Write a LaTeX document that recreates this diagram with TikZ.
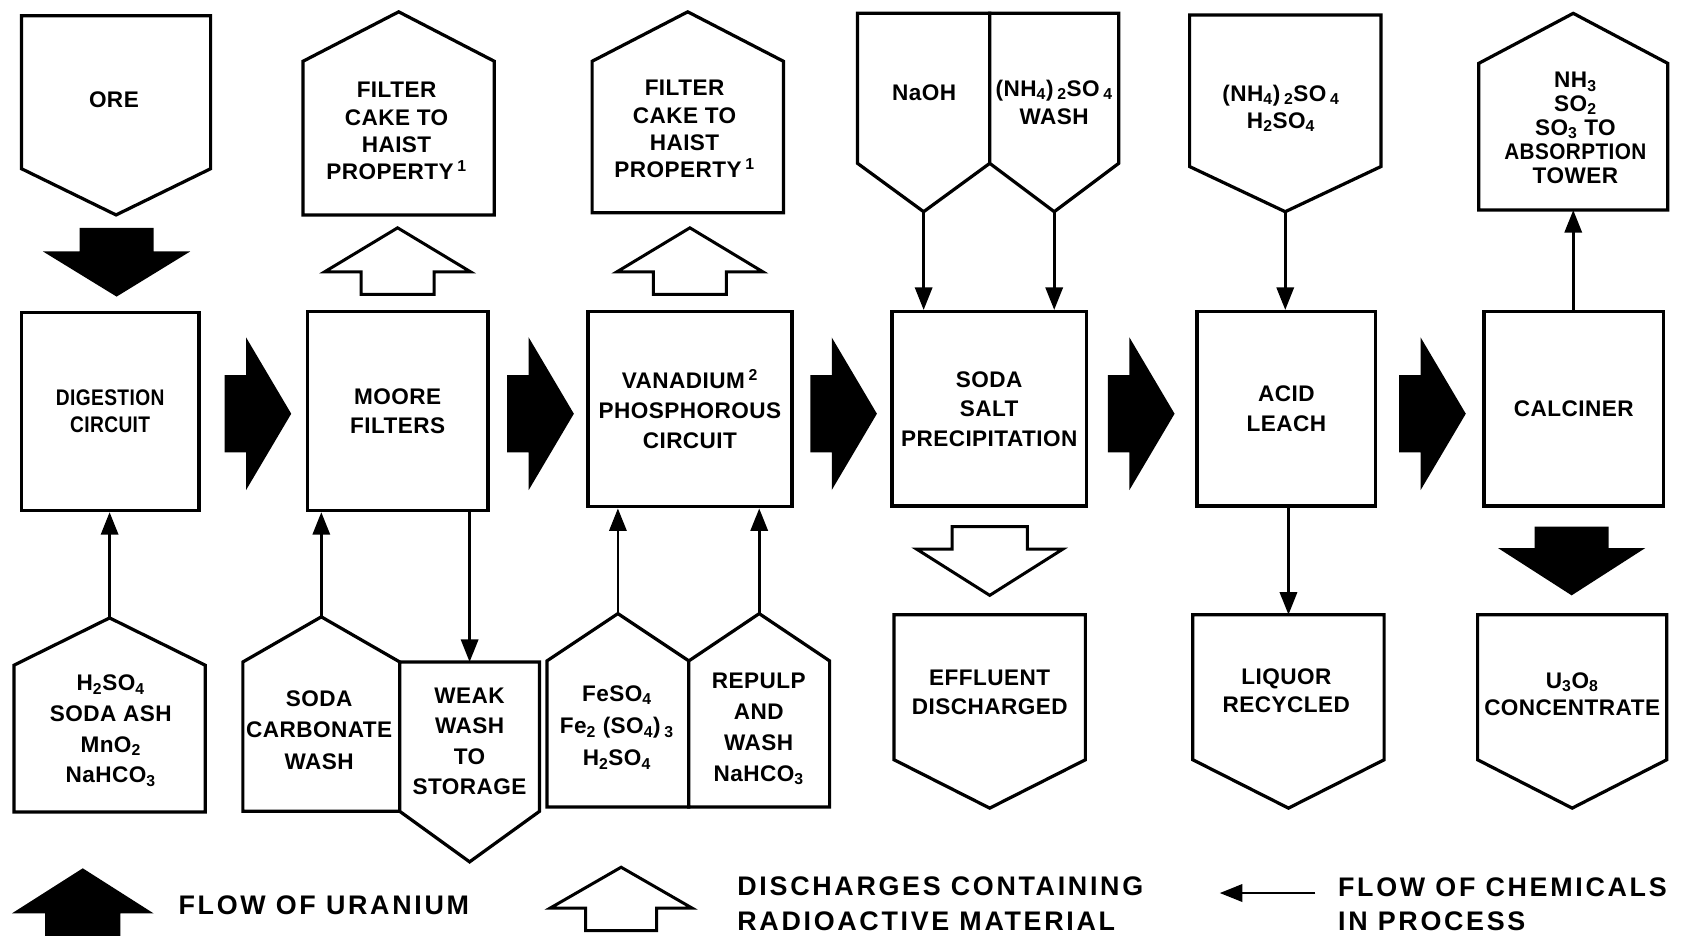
\documentclass[tikz,border=0pt]{standalone}
\usepackage{fontspec}
\usepackage{graphicx}
\setmainfont{Liberation Sans}[LetterSpace=2]
\newfontfamily\keyfont{Liberation Sans}[LetterSpace=10]
\usetikzlibrary{arrows.meta}

% label font: bold, 21pt, given line spacing
\newcommand{\lblfont}[1]{\bfseries\fontsize{21}{#1}\selectfont}

% five-sided box: name, left x, right x, flat-edge y, shoulder y, tip y
\newcommand{\pentagon}[6]{%
  \draw[outline] (#2,#4) -- (#3,#4) -- (#3,#5) -- ({(#2+#3)/2},#6) coordinate (#1-tip)
    -- (#2,#5) -- cycle;
  \coordinate (#1-base) at ({(#2+#3)/2},#4);}

% broad arrow pointing right: shaft left x, centre y
\newcommand{\fatright}[2]{%
  \fill (#1,#2-36) -- ++(20,0) -- ++(0,-35) -- ++(42,71) -- ++(-42,71)
    -- ++(0,-35) -- ++(-20,0) -- cycle;}

% broad vertical arrow: style, centre x, shaft end y, shaft half width,
% head half width, head base y, tip y
\newcommand{\fatvert}[7]{%
  \path[#1] ({#2-#4},#3) -- ({#2+#4},#3) -- ({#2+#4},#6) -- ({#2+#5},#6)
    -- (#2,#7) -- ({#2-#5},#6) -- ({#2-#4},#6) -- cycle;}

\begin{document}
\begin{tikzpicture}[x=1pt, y=-1pt,
  outline/.style={draw, line width=3pt, fill=white, line join=miter},
  procbox/.style={draw, line width=3.2pt, align=center, inner sep=0pt},
  lbl/.style={align=center, inner sep=0pt},
  flow/.style={line width=2.6pt, -{Triangle[length=21pt, width=16pt]}},
  solidarrow/.style={fill=black},
  hollowarrow/.style={draw, fill=white, line width=2.8pt},
  keylbl/.style={anchor=west, align=left, inner sep=0pt,
    font=\keyfont\bfseries\fontsize{25}{32}\selectfont}]

\fill[white] (0,0) rectangle (1568,871);
\useasboundingbox (0,0) rectangle (1568,871);

% ---------- top row: feeds and off-takes ----------
\pentagon{ore}{20}{196}{14.6}{157}{200}
\pentagon{cake1}{282}{460}{200}{57}{11}
\pentagon{cake2}{551}{729}{198}{57}{11}
\pentagon{naoh}{798}{921}{12.4}{152}{197}
\pentagon{wash}{921}{1041}{12.4}{152}{197}
\pentagon{acidin}{1107}{1285}{14}{155}{197}
\pentagon{exhaust}{1376}{1552}{195.5}{59}{12.4}

\node[lbl, font=\lblfont{26}] (ore-label) at (106,93) {ORE};
\node[lbl, font=\lblfont{25.3}] (cake1-label) at (369,122)
  {FILTER\\CAKE TO\\HAIST\\PROPERTY\,\textsuperscript{1}};
\node[lbl, font=\lblfont{25.3}] (cake2-label) at (637,120)
  {FILTER\\CAKE TO\\HAIST\\PROPERTY\,\textsuperscript{1}};
\node[lbl, font=\lblfont{26}] (naoh-label) at (860,86) {NaOH};
\node[lbl, font=\lblfont{26}] (wash-label) at (981,95)
  {(NH\textsubscript{4})\,\textsubscript{2}SO\,\textsubscript{4}\\WASH};
\node[lbl, font=\lblfont{25}] (acidin-label) at (1192,101)
  {(NH\textsubscript{4})\,\textsubscript{2}SO\,\textsubscript{4}\\H\textsubscript{2}SO\textsubscript{4}};
\node[lbl, font=\lblfont{22.25}] (exhaust-label) at (1466,119)
  {NH\textsubscript{3}\\SO\textsubscript{2}\\SO\textsubscript{3} TO\\\scalebox{0.92}[1]{ABSORPTION}\\TOWER};

% ---------- middle row: process stages ----------
\node[procbox, minimum width=165pt, minimum height=184pt, font=\lblfont{25}] (dig) at (102.5,383)
  {\scalebox{0.85}[1]{DIGESTION}\\\scalebox{0.85}[1]{CIRCUIT}};
\node[procbox, minimum width=168pt, minimum height=185pt, font=\lblfont{27}] (moore) at (370,382.5)
  {MOORE\\FILTERS};
\node[procbox, minimum width=190pt, minimum height=181.5pt, font=\lblfont{28}] (van) at (642,380.75)
  {VANADIUM\,\textsuperscript{2}\\PHOSPHOROUS\\CIRCUIT};
\node[procbox, minimum width=181pt, minimum height=181pt, font=\lblfont{27.5}] (soda) at (920.5,380.5)
  {SODA\\SALT\\PRECIPITATION};
\node[procbox, minimum width=166pt, minimum height=181pt, font=\lblfont{27.5}] (acid) at (1197,380.5)
  {ACID\\LEACH};
\node[procbox, minimum width=167pt, minimum height=181pt, font=\lblfont{27}] (calc) at (1464.5,380.5)
  {CALCINER};

% ---------- bottom row: reagents and products ----------
\pentagon{digin}{13}{191}{755.5}{619}{575}
\pentagon{sodacarb}{226}{372}{755}{616}{574}
\pentagon{weak}{372}{502}{616}{755}{802}
\pentagon{feso}{509}{641}{751}{615}{571}
\pentagon{repulp}{641}{772}{751}{615}{571}
\pentagon{effluent}{832}{1010}{572}{707}{752}
\pentagon{liquor}{1110}{1288}{572}{707}{752}
\pentagon{product}{1375}{1551}{572}{707}{752}

\node[lbl, font=\lblfont{28.5}] (digin-label) at (103,680)
  {H\textsubscript{2}SO\textsubscript{4}\\SODA ASH\\MnO\textsubscript{2}\\NaHCO\textsubscript{3}};
\node[lbl, font=\lblfont{29.5}] (sodacarb-label) at (297,679.5)
  {SODA\\CARBONATE\\WASH};
\node[lbl, font=\lblfont{28.3}] (weak-label) at (437,690)
  {WEAK\\WASH\\TO\\STORAGE};
\node[lbl, font=\lblfont{30}] (feso-label) at (574,677)
  {FeSO\textsubscript{4}\\Fe\textsubscript{2} (SO\textsubscript{4})\,\textsubscript{3}\\H\textsubscript{2}SO\textsubscript{4}};
\node[lbl, font=\lblfont{28.8}] (repulp-label) at (706,678)
  {REPULP\\AND\\WASH\\NaHCO\textsubscript{3}};
\node[lbl, font=\lblfont{27}] (effluent-label) at (921,644.5)
  {EFFLUENT\\DISCHARGED};
\node[lbl, font=\lblfont{26}] (liquor-label) at (1197,643)
  {LIQUOR\\RECYCLED};
\node[lbl, font=\lblfont{26}] (product-label) at (1463,646)
  {U\textsubscript{3}O\textsubscript{8}\\CONCENTRATE};

% ---------- uranium flow and discharges ----------
\fatvert{solidarrow}{108.5}{212}{34.5}{68.5}{234}{276}
\fatright{209}{385}
\fatright{472}{385}
\fatright{754}{385}
\fatright{1031}{385}
\fatright{1302}{385}
\fatvert{solidarrow}{1462.5}{490}{34.5}{68.5}{510}{554}
\fatvert{hollowarrow}{370}{274}{34}{68}{253}{212}
\fatvert{hollowarrow}{642}{274}{34}{68}{253}{212}
\fatvert{hollowarrow}{921}{490}{35}{68}{511}{554}

% ---------- chemical flows ----------
\draw[flow] (digin-tip) -- (digin-tip |- dig.south);
\draw[flow] (sodacarb-tip) -- (sodacarb-tip |- moore.south);
\draw[flow] (moore.south -| weak-base) -- (weak-base);
\draw[flow] (feso-tip) -- (feso-tip |- van.south);
\draw[flow] (repulp-tip) -- (repulp-tip |- van.south);
\draw[flow] (naoh-tip) -- (naoh-tip |- soda.north);
\draw[flow] (wash-tip) -- (wash-tip |- soda.north);
\draw[flow] (acidin-tip) -- (acidin-tip |- acid.north);
\draw[flow] (acid.south -| liquor-base) -- (liquor-base);
\draw[flow] (calc.north -| exhaust-base) -- (exhaust-base);

% ---------- key ----------
\fatvert{solidarrow}{77}{880}{35}{66}{850}{808}
\node[keylbl] (key-uranium) at (166,842) {FLOW OF URANIUM};
\fatvert{hollowarrow}{578}{866}{33}{66}{845}{807}
\node[keylbl] (key-discharge) at (686,841) {DISCHARGES CONTAINING\\RADIOACTIVE MATERIAL};
\coordinate (key-from) at (1224,831);
\coordinate (key-to) at (1135,831);
\draw[flow] (key-from) -- (key-to);
\node[keylbl] (key-chem) at (1245,841.5) {FLOW OF CHEMICALS\\IN PROCESS};
\end{tikzpicture}
\end{document}
